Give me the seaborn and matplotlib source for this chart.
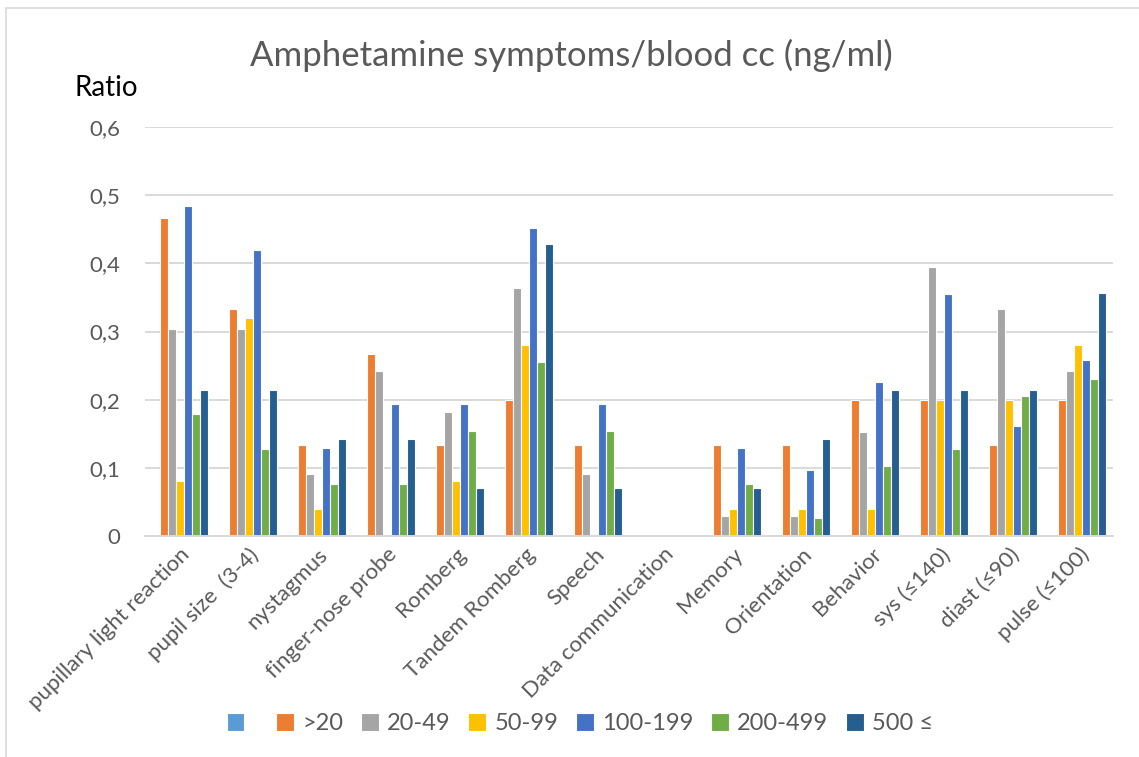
import pandas as pd
import matplotlib.pyplot as plt
import seaborn as sns
from matplotlib.lines import Line2D

# categories and series
categorias = ["pupillary light reaction", "pupil size  (3-4)", "nystagmus", "finger-nose probe",
              "Romberg", "Tandem Romberg", "Speech", "Data communication", "Memory",
              "Orientation", "Behavior", "sys (≤140)", "diast (≤90)", "pulse (≤100)"]
series = [" ", ">20", "20-49", "50-99", "100-199", "200-499", "500 ≤"]

vacio = [0] * 14
gt20 = [0.467, 0.333, 0.133, 0.267, 0.133, 0.200, 0.133, 0, 0.133, 0.133, 0.200, 0.200, 0.133, 0.200]
r20_49 = [0.303, 0.303, 0.091, 0.242, 0.182, 0.364, 0.091, 0, 0.030, 0.030, 0.152, 0.394, 0.333, 0.242]
r50_99 = [0.080, 0.320, 0.040, 0, 0.080, 0.280, 0, 0, 0.040, 0.040, 0.040, 0.200, 0.200, 0.280]
r100_199 = [0.484, 0.419, 0.129, 0.194, 0.194, 0.452, 0.194, 0, 0.129, 0.097, 0.226, 0.355, 0.161, 0.258]
r200_499 = [0.179, 0.128, 0.077, 0.077, 0.154, 0.256, 0.154, 0, 0.077, 0.026, 0.103, 0.128, 0.205, 0.231]
r500 = [0.214, 0.214, 0.143, 0.143, 0.071, 0.429, 0.071, 0, 0.071, 0.143, 0.214, 0.214, 0.214, 0.357]

ticks_y = [0, 0.1, 0.2, 0.3, 0.4, 0.5, 0.6]
etiquetas_y = ["0", "0,1", "0,2", "0,3", "0,4", "0,5", "0,6"]

colores = ["#5B9BD5", "#ED7D31", "#A5A5A5", "#FFC000", "#4472C4", "#70AD47", "#255E91"]

# tabla larga para seaborn
valores = [vacio, gt20, r20_49, r50_99, r100_199, r200_499, r500]
filas = []
for nombre, vals in zip(series, valores):
    for cat, v in zip(categorias, vals):
        filas.append({"Categoria": cat, "Serie": nombre, "Valor": v})
df = pd.DataFrame(filas)

sns.set_theme(style="white")
plt.rcParams['font.family'] = ['Lato', 'DejaVu Sans']

fig = plt.figure(figsize=(11.39, 7.57), dpi=100)
ax = fig.add_axes([0.1273, 0.2919, 0.8499, 0.5403])

sns.barplot(data=df, x="Categoria", y="Valor", hue="Serie", order=categorias, hue_order=series,
            palette=colores, saturation=1, width=0.81, edgecolor="white", linewidth=0.8, ax=ax)

ax.set_ylim(0, 0.6)
ax.set_xlim(-0.5, len(categorias) - 0.5)
ax.set_yticks(ticks_y)
ax.set_yticklabels(etiquetas_y)
ax.yaxis.grid(True, color="#D9D9D9", linewidth=1.4)
ax.set_axisbelow(True)
for s in ["top", "right", "left"]:
    ax.spines[s].set_visible(False)
ax.spines["bottom"].set_color("#D9D9D9")
ax.spines["bottom"].set_linewidth(1.4)
ax.tick_params(axis="y", length=0, labelsize=16, colors="#595959", pad=18)
ax.tick_params(axis="x", length=0, labelsize=16, colors="#595959", pad=6)
plt.setp(ax.get_xticklabels(), rotation=45, ha="right", rotation_mode="anchor")
ax.set_xlabel("")
ax.set_ylabel("")

# titulo y etiqueta del eje
fig.text(0.502, 0.927, "Amphetamine symptoms/blood cc (ng/ml)", ha="center", va="center",
         fontsize=25, color="#595959")
fig.text(0.0935, 0.884, "Ratio", ha="center", va="center", fontsize=20, color="black")

# leyenda abajo
handles, labels = ax.get_legend_handles_labels()
ax.get_legend().remove()
fig.legend(handles, labels, loc="center", bbox_to_anchor=(0.509, 0.044), ncol=7, frameon=False,
           fontsize=17, labelcolor="#595959", handlelength=0.75, handleheight=0.75,
           handletextpad=0.35, columnspacing=0.75)

# borde del area del grafico
fig.add_artist(Line2D([6 / 1139, 1], [1 - 8 / 757, 1 - 8 / 757], color="#D9D9D9", linewidth=1.2))
fig.add_artist(Line2D([6 / 1139, 6 / 1139], [0, 1 - 8 / 757], color="#D9D9D9", linewidth=1.2))

plt.savefig("out.png", dpi=100)
